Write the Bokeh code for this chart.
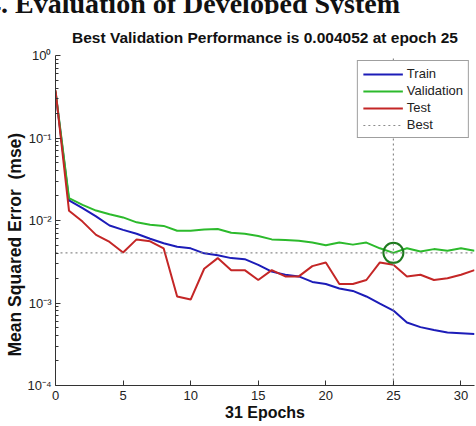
from bokeh.embed import file_html
from bokeh.layouts import column
from bokeh.models import (CustomJSTickFormatter, Div, FixedTicker, Legend,
                          LegendItem, Range1d, Title)
from bokeh.plotting import figure
from bokeh.resources import INLINE

# Training record (mean squared error per epoch)
epochs = list(range(32))
train_mse = [0.36, 0.0175, 0.0141, 0.0112, 0.0087, 0.0077, 0.0069, 0.0060,
             0.0053, 0.0048, 0.0046, 0.0040, 0.0038, 0.0035, 0.0034, 0.0029,
             0.0024, 0.0022, 0.0021, 0.0018, 0.0017, 0.0015, 0.0014, 0.0012,
             0.00098, 0.00081, 0.00058, 0.00051, 0.00047, 0.00044, 0.00043,
             0.00042]
val_mse = [0.37, 0.0187, 0.0155, 0.0132, 0.0119, 0.0109, 0.0095, 0.0089,
           0.0086, 0.0075, 0.0075, 0.0078, 0.0079, 0.0071, 0.0069, 0.0065,
           0.0059, 0.0058, 0.0057, 0.0054, 0.0050, 0.0054, 0.0051, 0.0054,
           0.0046, 0.004052, 0.0046, 0.0042, 0.0045, 0.0043, 0.0046, 0.0043]
test_mse = [0.38, 0.0131, 0.0097, 0.0067, 0.0055, 0.0041, 0.0059, 0.0056,
            0.0046, 0.0012, 0.0011, 0.0026, 0.0035, 0.0025, 0.0025, 0.0019,
            0.0025, 0.0021, 0.0021, 0.0028, 0.0031, 0.0017, 0.0017, 0.0019,
            0.0031, 0.0029, 0.0021, 0.0022, 0.0019, 0.0020, 0.0022, 0.0025]

best_epoch = 25
best_perf = 0.004052

x_ticks = [0, 5, 10, 15, 20, 25, 30]
y_ticks = [1e-4, 1e-3, 1e-2, 1e-1, 1.0]
y_minor = [m * d for d in [1e-4, 1e-3, 1e-2, 1e-1] for m in range(2, 10)]

X_MIN, X_MAX = 0, 31
Y_MIN, Y_MAX = 1e-4, 1.0

FONT = "Liberation Sans"

# section heading sitting above the chart (only its lower part shows)
heading = Div(
    text=("<div style=\"font: bold 28px 'Liberation Serif'; line-height: 28px;"
          " margin-top: -10px; margin-left: -13px; white-space: nowrap;"
          " color: #111111;\">4. Evaluation of Developed System</div>"),
    width=476, height=14, margin=0,
    styles={"overflow": "hidden", "background": "white"})

p = figure(width=476, height=412, y_axis_type="log",
           x_range=Range1d(X_MIN, X_MAX), y_range=Range1d(Y_MIN, Y_MAX),
           output_backend="svg", toolbar_location=None,
           min_border_left=55, min_border_right=2,
           min_border_top=41, min_border_bottom=41, margin=0)

p.title.text = f"Best Validation Performance is {best_perf:.6f} at epoch {best_epoch}"
p.title.align = "center"
p.title.text_font = FONT
p.title.text_font_size = "15.5px"
p.title.text_font_style = "bold"
p.title.text_color = "#111111"
p.title.standoff = 19

p.grid.visible = False
p.outline_line_color = None
p.background_fill_color = "white"
p.border_fill_color = "white"

# axes
for ax in (p.xaxis, p.yaxis):
    ax.axis_line_color = "#333333"
    ax.major_tick_line_color = "#333333"
    ax.minor_tick_line_color = "#333333"
    ax.major_tick_in = 5
    ax.major_tick_out = 0
    ax.minor_tick_in = 3
    ax.minor_tick_out = 0
    ax.major_label_text_font = FONT
    ax.major_label_text_font_size = "13px"
    ax.major_label_text_color = "#222222"

p.xaxis.ticker = FixedTicker(ticks=x_ticks)
p.xaxis.major_label_standoff = 5
p.xaxis.axis_label = "31 Epochs"
p.xaxis.axis_label_text_font = FONT
p.xaxis.axis_label_text_font_size = "16px"
p.xaxis.axis_label_text_font_style = "bold"
p.xaxis.axis_label_text_color = "#111111"
p.xaxis.axis_label_standoff = 1

p.yaxis.ticker = FixedTicker(ticks=y_ticks, minor_ticks=y_minor)
p.yaxis.major_label_standoff = 4
p.yaxis.formatter = CustomJSTickFormatter(code="""
    const e = Math.round(Math.log10(tick));
    const sup = {'-': '\u207b', '0': '\u2070', '1': '\u00b9', '2': '\u00b2',
                 '3': '\u00b3', '4': '\u2074'};
    return '10' + String(e).split('').map(c => sup[c]).join('');
""")

# y label as a side title, starting a little above the bottom of the frame
p.add_layout(Title(text="Mean Squared Error \u00a0(mse)", align="left",
                   offset=29, standoff=0, text_font=FONT,
                   text_font_size="17.5px", text_font_style="bold",
                   text_color="#111111"), "left")

# curves
r_train = p.line(epochs, train_mse, line_color="#1c1cb8", line_width=2)
r_val = p.line(epochs, val_mse, line_color="#2cba2c", line_width=2)
r_test = p.line(epochs, test_mse, line_color="#c42626", line_width=2)

# best-epoch crosshair and marker
r_best = p.multi_line(xs=[[best_epoch, best_epoch], [X_MIN, X_MAX]],
                      ys=[[Y_MIN, Y_MAX], [best_perf, best_perf]],
                      line_color="#8c8c8c", line_width=1.2, line_dash="2 3")
p.scatter([best_epoch], [best_perf], marker="circle", size=20,
          fill_color=None, line_color="#1f7a1f", line_width=2)

legend = Legend(items=[LegendItem(label="Train", renderers=[r_train]),
                       LegendItem(label="Validation", renderers=[r_val]),
                       LegendItem(label="Test", renderers=[r_test]),
                       LegendItem(label="Best", renderers=[r_best])],
                location="top_right")
legend.margin = 5
legend.padding = 5
legend.spacing = 2
legend.label_height = 14
legend.glyph_height = 14
legend.glyph_width = 40
legend.label_standoff = 4
legend.label_text_font = FONT
legend.label_text_font_size = "13px"
legend.label_text_color = "#222222"
legend.border_line_color = "#404040"
legend.border_line_width = 1
legend.background_fill_alpha = 1.0
p.add_layout(legend)

page = column(heading, p, spacing=0, margin=0)

open("out.html", "w").write(file_html(page, INLINE))
